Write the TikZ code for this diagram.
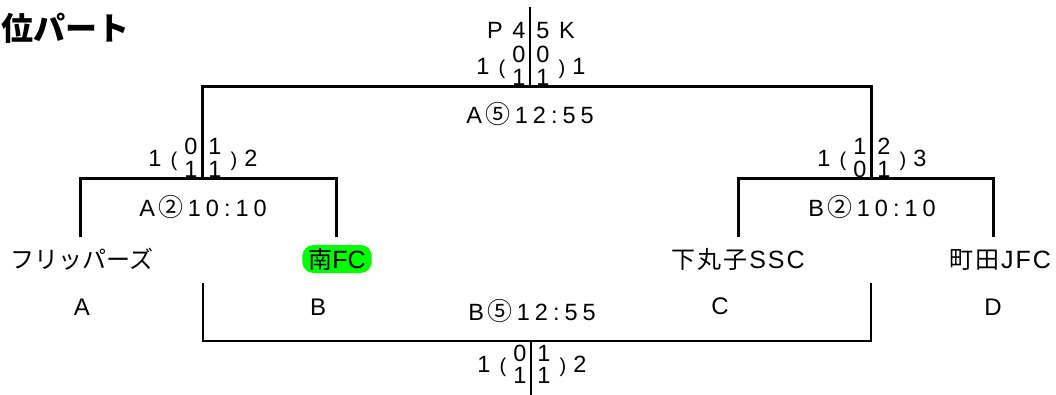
\documentclass[tikz,border=0pt]{standalone}
\usepackage{fontspec}
\setmainfont{Liberation Sans}
\newfontfamily\cjk{Noto Sans CJK JP}
\definecolor{hlgreen}{RGB}{0,255,0}
\newcommand\gp{\kern5pt}
\newcommand\cgp{\kern2pt}
\newcommand\circnum[1]{\kern-1pt{\cjk\fontsize{25}{25}\selectfont #1}\kern-1pt}
\newcommand\scoreblk[7]{%
  \node[sc] (#1-lo) at (-47,\yout) {#2};
  \node[sc,font=\fontsize{20}{20}\selectfont] (#1-lp) at (-28,\yout) {(};
  \node[sc] (#1-tl) at (-11,\ytop) {#3};
  \node[sc] (#1-bl) at (-11,\ybot) {#4};
  \node[sc] (#1-tr) at (13,\ytop) {#5};
  \node[sc] (#1-br) at (13,\ybot) {#6};
  \node[sc,font=\fontsize{20}{20}\selectfont] (#1-rp) at (32,\yout) {)};
  \node[sc] (#1-ro) at (49,\yout) {#7};}
\begin{document}
\begin{tikzpicture}[x=1pt,y=-1pt,
  sc/.style={inner sep=0pt,font=\fontsize{23.5}{23.5}\selectfont,text height=16.8pt,text depth=0pt},
  lbl/.style={inner sep=0pt,font=\fontsize{24}{24}\selectfont,text height=17pt,text depth=0pt},
  nm/.style={inner sep=0pt,font=\fontsize{25}{25}\selectfont,text height=18pt,text depth=0pt},
  mt/.style={inner sep=0pt,font=\fontsize{23.5}{23.5}\selectfont,text height=16.8pt,text depth=0pt},
  brk/.style={line width=3pt},
  ctr/.style={line width=2.2pt},
  thinbrk/.style={line width=1.3pt},
  hl/.style={fill=hlgreen,rounded corners=11pt,minimum height=28pt,inner xsep=6pt,inner ysep=0pt,font=\fontsize{25}{25}\selectfont,text height=18pt,text depth=0pt}]
\useasboundingbox (0,0) rectangle (1056,395);

% title
\node[anchor=west,inner sep=0pt,font=\cjk\bfseries\fontsize{32}{32}\selectfont] (title) at (1,28) {位パート};

% coordinates of the bracket
\coordinate (tt) at (530,7);
\coordinate (tm) at (530,87);
\coordinate (tl) at (202,87);
\coordinate (tr) at (871,87);
\coordinate (lm) at (202,179);
\coordinate (rm) at (871,179);
\coordinate (ll) at (80,179);
\coordinate (llb) at (80,237);
\coordinate (lr) at (336,179);
\coordinate (lrb) at (336,237);
\coordinate (rl) at (738,179);
\coordinate (rlb) at (738,237);
\coordinate (rr) at (993,179);
\coordinate (rrb) at (993,237);
\coordinate (blt) at (203,283);
\coordinate (bl) at (203,341);
\coordinate (br) at (871,341);
\coordinate (brt) at (871,283);
\coordinate (bm) at (531,341);
\coordinate (bb) at (531,395);

% upper bracket lines
\draw[ctr] (tt) -- (tm);
\draw[brk] (lm) -- (tl) -- (tr) -- (rm);
\draw[brk] (llb) -- (ll) -- (lr) -- (lrb);
\draw[brk] (rlb) -- (rl) -- (rr) -- (rrb);
% lower (third place) bracket
\draw[thinbrk] (blt) -- (bl) -- (br) -- (brt);
\draw[thinbrk] (bm) -- (bb);

% top score block
\node[sc] (pk-p) at (495,30) {P};
\node[sc] (pk-4) at (519,30) {4};
\node[sc] (pk-5) at (543,30) {5};
\node[sc] (pk-k) at (567,30) {K};
\def\yout{-21}\def\ytop{-33}\def\ybot{-10}
\begin{scope}[shift={(530,87)}]
\scoreblk{fin}{1}{0}{1}{0}{1}{1}
\end{scope}
\begin{scope}[shift={(202,179)}]
\scoreblk{sfa}{1}{0}{1}{1}{1}{2}
\end{scope}
\begin{scope}[shift={(871,179)}]
\scoreblk{sfb}{1}{1}{0}{2}{1}{3}
\end{scope}
\def\yout{23}\def\ytop{12}\def\ybot{34}
\begin{scope}[shift={(531,341)}]
\scoreblk{thd}{1}{0}{1}{1}{1}{2}
\end{scope}

% match labels
\node[mt] (m1) at (530,115) {A\gp\circnum{⑤}\gp1\gp2\gp:\gp5\gp5};
\node[mt] (m2) at (203,208) {A\gp\circnum{②}\gp1\gp0\gp:\gp1\gp0};
\node[mt] (m3) at (872,208) {B\gp\circnum{②}\gp1\gp0\gp:\gp1\gp0};
\node[mt] (m4) at (532,312) {B\gp\circnum{⑤}\gp1\gp2\gp:\gp5\gp5};

% team names
\node[nm] (ta) at (82,259) {{\cjk\fontsize{24}{24}\selectfont フリッパーズ}};
\node[hl] (tb) at (337,259) {{\cjk\fontsize{24}{24}\selectfont 南}FC};
\node[nm] (tc) at (738,259) {{\cjk\fontsize{24}{24}\selectfont 下\cgp 丸\cgp 子}\cgp S\cgp S\cgp C};
\node[nm] (td) at (1000,259) {{\cjk\fontsize{24}{24}\selectfont 町\cgp 田}\cgp J\cgp F\cgp C};

% group letters
\node[lbl] (la) at (82,307) {A};
\node[lbl] (lb) at (318,307) {B};
\node[lbl] (lc) at (720,306) {C};
\node[lbl] (ld) at (993,307) {D};
\end{tikzpicture}
\end{document}
